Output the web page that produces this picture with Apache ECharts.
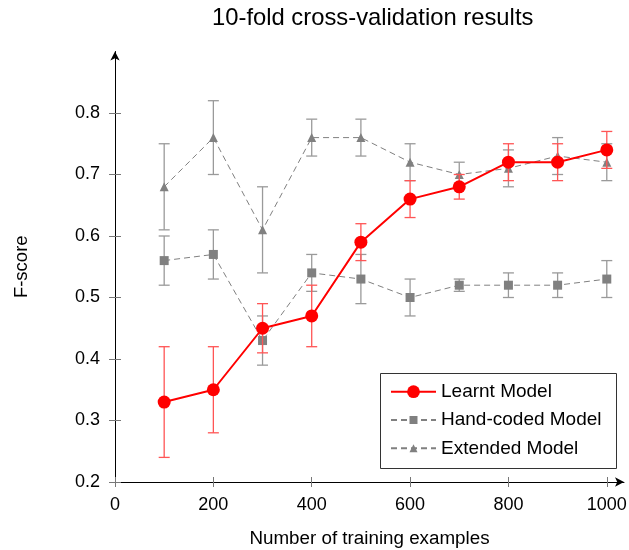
<!DOCTYPE html>
<html><head><meta charset="utf-8">
<script src="https://cdn.jsdelivr.net/npm/echarts@6/dist/echarts.min.js"></script>
<style>html,body{margin:0;padding:0;background:#fff}#c{width:629px;height:550px}</style>
</head><body><div id="c"></div>
<script>
// ---- data ----
const trainingSizes = [100, 200, 300, 400, 500, 600, 700, 800, 900, 1000];
const learntMean = [0.33, 0.35, 0.45, 0.47, 0.59, 0.66, 0.68, 0.72, 0.72, 0.74];
const learntErr  = [0.09, 0.07, 0.04, 0.05, 0.03, 0.03, 0.02, 0.03, 0.03, 0.03];
const handMean   = [0.56, 0.57, 0.43, 0.54, 0.53, 0.50, 0.52, 0.52, 0.52, 0.53];
const handErr    = [0.04, 0.04, 0.04, 0.03, 0.04, 0.03, 0.01, 0.02, 0.02, 0.03];
const extMean    = [0.68, 0.76, 0.61, 0.76, 0.76, 0.72, 0.70, 0.71, 0.73, 0.72];
const extErr     = [0.07, 0.06, 0.07, 0.03, 0.03, 0.03, 0.02, 0.03, 0.03, 0.03];
const seriesNames = ['Learnt Model', 'Hand-coded Model', 'Extended Model'];
const xTicks = [0, 200, 400, 600, 800, 1000];
const yTicks = [0.2, 0.3, 0.4, 0.5, 0.6, 0.7, 0.8];
const titleText = '10-fold cross-validation results';
const xName = 'Number of training examples';
const yName = 'F-score';

const FONT = 'Liberation Sans, Arial, Helvetica, sans-serif';
const RED = '#ff0000';
const GRAY = '#808080';

function pts(means) { return trainingSizes.map((x, i) => [x, means[i]]); }

function errorBars(id, means, errs, color, z) {
  return {
    type: 'custom', name: id, z: z, silent: true,
    xAxisIndex: 0, yAxisIndex: 0,
    data: trainingSizes.map((x, i) => [x, means[i] - errs[i], means[i] + errs[i]]),
    encode: { x: 0, y: [1, 2] },
    renderItem: function (params, api) {
      const lo = api.coord([api.value(0), api.value(1)]);
      const hi = api.coord([api.value(0), api.value(2)]);
      const hw = 5.5;
      const st = { stroke: color, lineWidth: 1.3, fill: null };
      return { type: 'group', children: [
        { type: 'line', shape: { x1: lo[0], y1: lo[1], x2: hi[0], y2: hi[1] }, style: st },
        { type: 'line', shape: { x1: lo[0] - hw, y1: lo[1], x2: lo[0] + hw, y2: lo[1] }, style: st },
        { type: 'line', shape: { x1: hi[0] - hw, y1: hi[1], x2: hi[0] + hw, y2: hi[1] }, style: st }
      ]};
    }
  };
}

const X_MAX = 1035, Y_MIN = 0.2, Y_MAX = 0.9;
const baseX = {
  type: 'value', min: 0, max: X_MAX, position: 'bottom',
  splitLine: { show: false }
};
const baseY = {
  type: 'value', min: Y_MIN, max: Y_MAX, position: 'left',
  splitLine: { show: false }
};

function legendRow(name, top, itemHeight) {
  return {
    data: [name], orient: 'vertical', left: 390, top: top, padding: 0,
    itemWidth: 45, itemHeight: itemHeight, itemGap: 0, z: 60,
    textStyle: { fontSize: 19, color: '#000', fontFamily: FONT },
    selectedMode: false
  };
}

const chart = echarts.init(document.getElementById('c'), null, { renderer: 'canvas' });
chart.setOption({
  animation: false,
  backgroundColor: '#fff',
  textStyle: { fontFamily: FONT },
  title: {
    text: titleText, left: 212, top: 6, padding: 0,
    textStyle: { fontSize: 23.8, fontWeight: 'normal', color: '#000', fontFamily: FONT }
  },
  grid: { left: 115, right: 5, top: 51.5, bottom: 68, containLabel: false, outerBoundsMode: 'none' },
  xAxis: [
    Object.assign({}, baseX, {
      name: xName, nameLocation: 'middle', nameGap: 47,
      nameTextStyle: { fontSize: 18.8, color: '#000', fontFamily: FONT },
      axisLine: { show: true, onZero: false, symbol: ['none', 'arrow'], symbolSize: [7, 9],
        lineStyle: { color: '#000', width: 1 } },
      axisTick: { show: true, customValues: xTicks, length: 5, lineStyle: { color: '#777' } },
      axisLabel: { show: true, customValues: xTicks, fontSize: 18, color: '#000', margin: 14, fontFamily: FONT,
        formatter: v => String(Math.round(v)) }
    }),
    Object.assign({}, baseX, {
      axisLine: { show: false, onZero: false },
      axisTick: { show: true, inside: true, customValues: xTicks, length: 5, lineStyle: { color: '#777' } },
      axisLabel: { show: false }
    })
  ],
  yAxis: [
    Object.assign({}, baseY, {
      name: yName, nameLocation: 'middle', nameGap: 84,
      nameTextStyle: { fontSize: 18.5, color: '#000', fontFamily: FONT },
      axisLine: { show: true, onZero: false, symbol: ['none', 'arrow'], symbolSize: [7, 9],
        lineStyle: { color: '#000', width: 1 } },
      axisTick: { show: true, customValues: yTicks, length: 6, lineStyle: { color: '#777' } },
      axisLabel: { show: true, customValues: yTicks, fontSize: 18, color: '#000', margin: 15, fontFamily: FONT,
        formatter: v => v.toFixed(1) }
    }),
    Object.assign({}, baseY, {
      axisLine: { show: false, onZero: false },
      axisTick: { show: true, inside: true, customValues: yTicks, length: 6, lineStyle: { color: '#777' } },
      axisLabel: { show: false }
    })
  ],
  legend: [
    legendRow(seriesNames[0], 382.2, 16),
    legendRow(seriesNames[1], 410.5, 10),
    legendRow(seriesNames[2], 438.8, 10)
  ],
  graphic: [{
    type: 'rect', z: 50, silent: true,
    shape: { x: 380.5, y: 373.5, width: 236, height: 95 },
    style: { fill: '#fff', stroke: '#333', lineWidth: 1 }
  }],
  series: [
    errorBars('ext-err', extMean, extErr, '#9a9a9a', 1),
    errorBars('hand-err', handMean, handErr, '#9a9a9a', 1),
    {
      type: 'line', name: seriesNames[2], data: pts(extMean), z: 2,
      symbol: 'triangle', symbolSize: 9,
      lineStyle: { color: GRAY, width: 1, type: [6, 4] },
      itemStyle: { color: GRAY }
    },
    {
      type: 'line', name: seriesNames[1], data: pts(handMean), z: 2,
      symbol: 'rect', symbolSize: 9,
      lineStyle: { color: GRAY, width: 1, type: [6, 4] },
      itemStyle: { color: GRAY }
    },
    errorBars('learnt-err', learntMean, learntErr, '#ff5555', 3),
    {
      type: 'line', name: seriesNames[0], data: pts(learntMean), z: 4,
      symbol: 'circle', symbolSize: 13,
      lineStyle: { color: RED, width: 2 },
      itemStyle: { color: RED }
    }
  ]
});
</script>
</body></html>
